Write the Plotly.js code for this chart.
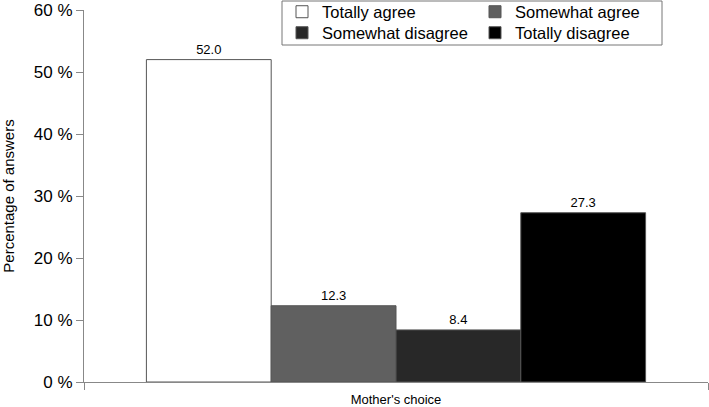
<!DOCTYPE html>
<html>
<head>
<meta charset="utf-8">
<script src="https://cdn.plot.ly/plotly-3.0.1.min.js"></script>
<style>html,body{margin:0;padding:0;background:#fff;}#chart{width:709px;height:407px;}</style>
</head>
<body>
<div id="chart"></div>
<script>
const category = ["Mother's choice"];
const seriesNames = ["Totally agree", "Somewhat agree", "Somewhat disagree", "Totally disagree"];
const seriesValues = [52.0, 12.3, 8.4, 27.3];
const seriesColors = ["#ffffff", "#606060", "#282828", "#000000"];
const legendRow = ["legend", "legend", "legend2", "legend2"];

const traces = seriesNames.map((name, i) => ({
  type: 'bar',
  name: name,
  legend: legendRow[i],
  x: category,
  y: [seriesValues[i]],
  text: [seriesValues[i].toFixed(1)],
  textposition: 'outside',
  textfont: {family: 'Liberation Sans, Arial, sans-serif', size: 13, color: '#000'},
  cliponaxis: false,
  marker: {color: seriesColors[i], line: {color: '#555555', width: 1}},
  hoverinfo: 'none'
}));

const legendCommon = {
  orientation: 'h',
  xref: 'container', yref: 'container',
  x: 282/709, xanchor: 'left',
  yanchor: 'middle',
  entrywidth: 148, entrywidthmode: 'pixels',
  itemwidth: 30,
  bgcolor: 'rgba(0,0,0,0)', borderwidth: 0,
  font: {size: 16.5, color: '#000'},
  traceorder: 'normal'
};

const layout = {
  width: 709, height: 407,
  margin: {l: 84, r: 1, t: 10, b: 25, autoexpand: false},
  paper_bgcolor: '#fff', plot_bgcolor: '#fff',
  font: {family: 'Liberation Sans, Arial, sans-serif', color: '#000'},
  barmode: 'group',
  bargap: 0.2,
  bargroupgap: 0,
  showlegend: true,
  legend: Object.assign({}, legendCommon, {y: 1 - 12/407}),
  legend2: Object.assign({}, legendCommon, {y: 1 - 33/407}),
  shapes: [{
    type: 'rect', xref: 'paper', yref: 'paper', layer: 'above',
    x0: (282-84)/624, x1: (662-84)/624, y0: (382-45)/372, y1: (382-1)/372,
    line: {color: '#777', width: 1}, fillcolor: 'rgba(0,0,0,0)'
  }],
  xaxis: {
    type: 'category',
    showline: true, linecolor: '#888', linewidth: 1,
    ticks: 'outside', tickson: 'boundaries', ticklen: 7, tickcolor: '#888',
    tickfont: {size: 13, color: '#000'},
    ticklabelstandoff: 5,
    showgrid: false, zeroline: false, fixedrange: true
  },
  yaxis: {
    range: [0, 60], dtick: 10, ticksuffix: ' %',
    showline: true, linecolor: '#888', linewidth: 1,
    ticks: 'outside', ticklen: 7, tickcolor: '#888',
    tickfont: {size: 17, color: '#000'},
    showgrid: false, zeroline: false,
    title: {text: 'Percentage of answers', font: {size: 15, color: '#000'}, standoff: 19}
  }
};

Plotly.newPlot('chart', traces, layout, {displayModeBar: false, staticPlot: true});
</script>
</body>
</html>
